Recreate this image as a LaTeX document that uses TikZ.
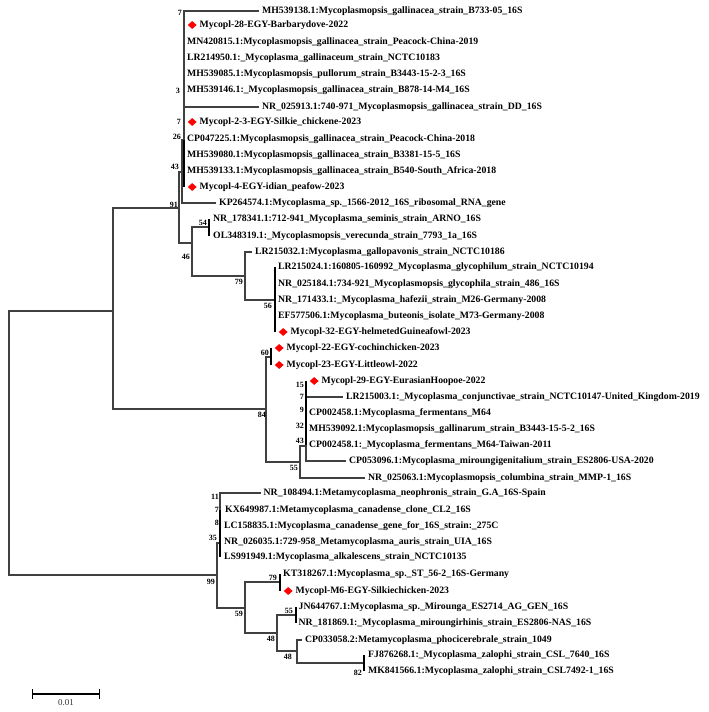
\documentclass[tikz,border=0pt]{standalone}
\usepackage{fontspec}
\setmainfont{Liberation Serif}
\usepackage{tikz}
\usetikzlibrary{positioning,shapes.geometric}
\newcommand{\taxfont}{\fontsize{9.75}{10}\selectfont\bfseries}
\newcommand{\bootfont}{\fontsize{8}{8}\selectfont\bfseries}

\begin{document}
\begin{tikzpicture}[x=1pt,y=-1pt,
	branch/.style={draw=black!75, line width=1.1pt},
	clade/.style={draw=black, line width=2.4pt},
	taxon/.style={inner sep=0pt, text height=6.5pt, text depth=2pt, font=\taxfont},
	boot/.style={anchor=east, inner sep=0pt, font=\bootfont},
	isolate/.style={diamond, fill=red, inner sep=0pt, minimum width=9pt, minimum height=8pt},
	scalebar/.style={draw=black, line width=1.4pt, |-|}]
			\useasboundingbox (0,0) rectangle (709,712);

			% inner nodes
			\coordinate (root) at (9,443);
			\coordinate (nA) at (113,311);
			\coordinate (n91) at (179,208);
			\coordinate (n43) at (182,172);
			\coordinate (n26) at (184,140);
			\coordinate (n46) at (192,243);
			\coordinate (n54) at (209,227);
			\coordinate (n79) at (245,276);
			\coordinate (n56) at (275,300);
			\coordinate (n84) at (266,409);
			\coordinate (n60) at (271,357);
			\coordinate (n55) at (300,462);
			\coordinate (n43b) at (306,446);
			\coordinate (n99) at (217,575);
			\coordinate (n35) at (220,543);
			\coordinate (n59) at (245,608);
			\coordinate (n79b) at (280,582);
			\coordinate (n48) at (277,633);
			\coordinate (n55b) at (296,615);
			\coordinate (n48b) at (297,651);
			\coordinate (n82) at (364,663);

			% leaf tips
			\coordinate (l01) at (259,11);
			\coordinate (l02) at (184,25);
			\coordinate (l03) at (184,42);
			\coordinate (l04) at (184,58);
			\coordinate (l05) at (184,74);
			\coordinate (l06) at (184,90);
			\coordinate (l07) at (259,107);
			\coordinate (l08) at (184,122);
			\coordinate (l09) at (184,139);
			\coordinate (l10) at (184,155);
			\coordinate (l11) at (184,171);
			\coordinate (l12) at (184,187);
			\coordinate (l13) at (216,203);
			\coordinate (l14) at (209,219);
			\coordinate (l15) at (209,236);
			\coordinate (l16) at (252,252);
			\coordinate (l17) at (275,267);
			\coordinate (l18) at (275,284);
			\coordinate (l19) at (275,300);
			\coordinate (l20) at (275,316);
			\coordinate (l21) at (275,332);
			\coordinate (l22) at (271,348);
			\coordinate (l23) at (271,365);
			\coordinate (l24) at (306,381);
			\coordinate (l25) at (343,397);
			\coordinate (l26) at (306,413);
			\coordinate (l27) at (306,429);
			\coordinate (l28) at (306,445);
			\coordinate (l29) at (346,461);
			\coordinate (l30) at (365,478);
			\coordinate (l31) at (261,493);
			\coordinate (l32) at (220,510);
			\coordinate (l33) at (220,526);
			\coordinate (l34) at (220,542);
			\coordinate (l35) at (220,557);
			\coordinate (l36) at (280,574);
			\coordinate (l37) at (280,591);
			\coordinate (l38) at (296,607);
			\coordinate (l39) at (296,623);
			\coordinate (l40) at (302,640);
			\coordinate (l41) at (364,655);
			\coordinate (l42) at (364,671);

			% taxa
			\node[taxon, right=3pt of l01] (t01) {MH539138.1:Mycoplasmopsis\_gallinacea\_strain\_B733-05\_16S};
			\node[isolate, right=3.5pt of l02] (d02) {};
			\node[taxon, right=2.5pt of d02] (t02) {Mycopl-28-EGY-Barbarydove-2022};
			\node[taxon, right=3pt of l03] (t03) {MN420815.1:Mycoplasmopsis\_gallinacea\_strain\_Peacock-China-2019};
			\node[taxon, right=3pt of l04] (t04) {LR214950.1:\_Mycoplasma\_gallinaceum\_strain\_NCTC10183};
			\node[taxon, right=3pt of l05] (t05) {MH539085.1:Mycoplasmopsis\_pullorum\_strain\_B3443-15-2-3\_16S};
			\node[taxon, right=3pt of l06] (t06) {MH539146.1:\_Mycoplasmopsis\_gallinacea\_strain\_B878-14-M4\_16S};
			\node[taxon, right=3pt of l07] (t07) {NR\_025913.1:740-971\_Mycoplasmopsis\_gallinacea\_strain\_DD\_16S};
			\node[isolate, right=3.5pt of l08] (d08) {};
			\node[taxon, right=2.5pt of d08] (t08) {Mycopl-2-3-EGY-Silkie\_chickene-2023};
			\node[taxon, right=3pt of l09] (t09) {CP047225.1:Mycoplasmopsis\_gallinacea\_strain\_Peacock-China-2018};
			\node[taxon, right=3pt of l10] (t10) {MH539080.1:Mycoplasmopsis\_gallinacea\_strain\_B3381-15-5\_16S};
			\node[taxon, right=3pt of l11] (t11) {MH539133.1:Mycoplasmopsis\_gallinacea\_strain\_B540-South\_Africa-2018};
			\node[isolate, right=3.5pt of l12] (d12) {};
			\node[taxon, right=2.5pt of d12] (t12) {Mycopl-4-EGY-idian\_peafow-2023};
			\node[taxon, right=3pt of l13] (t13) {KP264574.1:Mycoplasma\_sp.\_1566-2012\_16S\_ribosomal\_RNA\_gene};
			\node[taxon, right=4pt of l14] (t14) {NR\_178341.1:712-941\_Mycoplasma\_seminis\_strain\_ARNO\_16S};
			\node[taxon, right=4pt of l15] (t15) {OL348319.1:\_Mycoplasmopsis\_verecunda\_strain\_7793\_1a\_16S};
			\node[taxon, right=3pt of l16] (t16) {LR215032.1:Mycoplasma\_gallopavonis\_strain\_NCTC10186};
			\node[taxon, right=3pt of l17] (t17) {LR215024.1:160805-160992\_Mycoplasma\_glycophilum\_strain\_NCTC10194};
			\node[taxon, right=3pt of l18] (t18) {NR\_025184.1:734-921\_Mycoplasmopsis\_glycophila\_strain\_486\_16S};
			\node[taxon, right=3pt of l19] (t19) {NR\_171433.1:\_Mycoplasma\_hafezii\_strain\_M26-Germany-2008};
			\node[taxon, right=3pt of l20] (t20) {EF577506.1:Mycoplasma\_buteonis\_isolate\_M73-Germany-2008};
			\node[isolate, right=3.5pt of l21] (d21) {};
			\node[taxon, right=2.5pt of d21] (t21) {Mycopl-32-EGY-helmetedGuineafowl-2023};
			\node[isolate, right=3.5pt of l22] (d22) {};
			\node[taxon, right=2.5pt of d22] (t22) {Mycopl-22-EGY-cochinchicken-2023};
			\node[isolate, right=3.5pt of l23] (d23) {};
			\node[taxon, right=2.5pt of d23] (t23) {Mycopl-23-EGY-Littleowl-2022};
			\node[isolate, right=3.5pt of l24] (d24) {};
			\node[taxon, right=2.5pt of d24] (t24) {Mycopl-29-EGY-EurasianHoopoe-2022};
			\node[taxon, right=3pt of l25] (t25) {LR215003.1:\_Mycoplasma\_conjunctivae\_strain\_NCTC10147-United\_Kingdom-2019};
			\node[taxon, right=3pt of l26] (t26) {CP002458.1:Mycoplasma\_fermentans\_M64};
			\node[taxon, right=3pt of l27] (t27) {MH539092.1:Mycoplasmopsis\_gallinarum\_strain\_B3443-15-5-2\_16S};
			\node[taxon, right=3pt of l28] (t28) {CP002458.1:\_Mycoplasma\_fermentans\_M64-Taiwan-2011};
			\node[taxon, right=3pt of l29] (t29) {CP053096.1:Mycoplasma\_miroungigenitalium\_strain\_ES2806-USA-2020};
			\node[taxon, right=3pt of l30] (t30) {NR\_025063.1:Mycoplasmopsis\_columbina\_strain\_MMP-1\_16S};
			\node[taxon, right=2.5pt of l31] (t31) {NR\_108494.1:Metamycoplasma\_neophronis\_strain\_G.A\_16S-Spain};
			\node[taxon, right=5pt of l32] (t32) {KX649987.1:Metamycoplasma\_canadense\_clone\_CL2\_16S};
			\node[taxon, right=4pt of l33] (t33) {LC158835.1:Mycoplasma\_canadense\_gene\_for\_16S\_strain:\_275C};
			\node[taxon, right=4pt of l34] (t34) {NR\_026035.1:729-958\_Metamycoplasma\_auris\_strain\_UIA\_16S};
			\node[taxon, right=4pt of l35] (t35) {LS991949.1:Mycoplasma\_alkalescens\_strain\_NCTC10135};
			\node[taxon, right=3pt of l36] (t36) {KT318267.1:Mycoplasma\_sp.\_ST\_56-2\_16S-Germany};
			\node[isolate, right=3.5pt of l37] (d37) {};
			\node[taxon, right=2.5pt of d37] (t37) {Mycopl-M6-EGY-Silkiechicken-2023};
			\node[taxon, right=2.5pt of l38] (t38) {JN644767.1:Mycoplasma\_sp.\_Mirounga\_ES2714\_AG\_GEN\_16S};
			\node[taxon, right=2.5pt of l39] (t39) {NR\_181869.1:\_Mycoplasma\_miroungirhinis\_strain\_ES2806-NAS\_16S};
			\node[taxon, right=3pt of l40] (t40) {CP033058.2:Metamycoplasma\_phocicerebrale\_strain\_1049};
			\node[taxon, right=4pt of l41] (t41) {FJ876268.1:\_Mycoplasma\_zalophi\_strain\_CSL\_7640\_16S};
			\node[taxon, right=4pt of l42] (t42) {MK841566.1:Mycoplasma\_zalophi\_strain\_CSL7492-1\_16S};

			% branches
			\draw[branch] (root) |- (nA);
			\draw[branch] (root) |- (n99);
			\draw[branch] (nA) |- (n91);
			\draw[branch] (nA) |- (n84);
			\draw[branch] (n91) |- (n43);
			\draw[branch] (n91) |- (n46);
			\draw[branch] (n43) |- (n26);
			\draw[branch] (n43) |- (l13);
			\draw[branch] (n26) |- (l01);
			\draw[branch] (n26) |- (l07);
			\draw[branch] (n26) -- (l12);
			\draw[clade] (n26) -- (l12);
			\draw[branch] (n46) |- (n54);
			\draw[branch] (n46) |- (n79);
			\draw[branch] (n54) |- (l14);
			\draw[branch] (n54) |- (l15);
			\draw[clade] (l14) -- (l15);
			\draw[branch] (n79) |- (l16);
			\draw[branch] (n79) |- (n56);
			\draw[clade] (l17) -- (l21);
			\draw[branch] (n84) |- (n60);
			\draw[branch] (n84) |- (n55);
			\draw[clade] (l22) -- (l23);
			\draw[branch] (n55) |- (n43b);
			\draw[branch] (n55) |- (l30);
			\draw[branch] (n43b) |- (l25);
			\draw[branch] (n43b) |- (l29);
			\draw[clade] (l24) -- (l28);
			\draw[branch] (n99) |- (n35);
			\draw[branch] (n99) |- (n59);
			\draw[branch] (n35) |- (l31);
			\draw[clade] (l32) -- (l35);
			\draw[branch] (n59) |- (n79b);
			\draw[branch] (n59) |- (n48);
			\draw[clade] (l36) -- (l37);
			\draw[branch] (n48) |- (n55b);
			\draw[branch] (n48) |- (n48b);
			\draw[clade] (l38) -- (l39);
			\draw[branch] (n48b) |- (l40);
			\draw[branch] (n48b) |- (n82);
			\draw[clade] (l41) -- (l42);

			% bootstrap values
			\node[boot] (bs01) at (182,13) {7};
			\node[boot] (bs02) at (180,91) {3};
			\node[boot] (bs03) at (181,122) {7};
			\node[boot] (bs04) at (181,137) {26};
			\node[boot] (bs05) at (179,167) {43};
			\node[boot] (bs06) at (178,205) {91};
			\node[boot] (bs07) at (190,257) {46};
			\node[boot] (bs08) at (207,223) {54};
			\node[boot] (bs09) at (243,282) {79};
			\node[boot] (bs10) at (272,306) {56};
			\node[boot] (bs11) at (269,353) {60};
			\node[boot] (bs12) at (266,415) {84};
			\node[boot] (bs13) at (304,385) {15};
			\node[boot] (bs14) at (304,397) {7};
			\node[boot] (bs15) at (304,410) {9};
			\node[boot] (bs16) at (304,426) {32};
			\node[boot] (bs17) at (304,441) {43};
			\node[boot] (bs18) at (298,468) {55};
			\node[boot] (bs19) at (219,497) {11};
			\node[boot] (bs20) at (219,510) {7};
			\node[boot] (bs21) at (219,523) {8};
			\node[boot] (bs22) at (217,538) {35};
			\node[boot] (bs23) at (215,582) {99};
			\node[boot] (bs24) at (243,614) {59};
			\node[boot] (bs25) at (277,578) {79};
			\node[boot] (bs26) at (275,639) {48};
			\node[boot] (bs27) at (293,611) {55};
			\node[boot] (bs28) at (292,657) {48};
			\node[boot] (bs29) at (362,673) {82};

			% scale
			\coordinate (sbL) at (32,694);
			\coordinate (sbR) at (100,694);
			\draw[scalebar] (sbL) -- (sbR);
			\node[font=\fontsize{9}{9}\selectfont, text=black!80, below=2pt of sbL, xshift=34pt] (sbT) {0.01};
		\end{tikzpicture}
\end{document}
